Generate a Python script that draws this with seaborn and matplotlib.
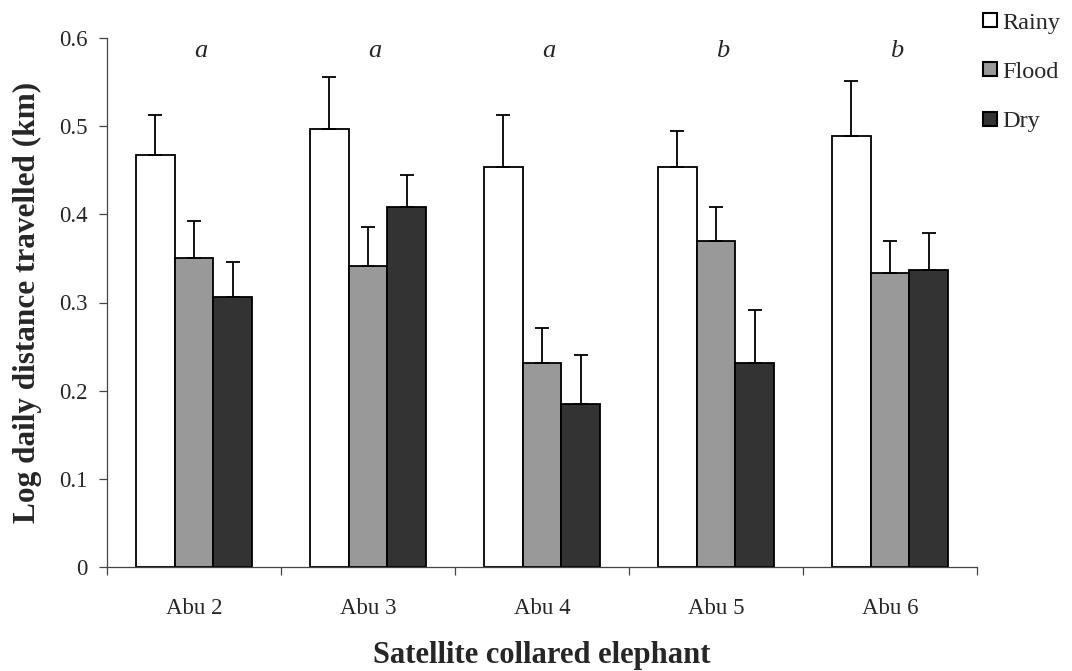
import numpy as np
import pandas as pd
import matplotlib
matplotlib.use("Agg")
import matplotlib.pyplot as plt
from matplotlib.lines import Line2D
import seaborn as sns

# Mean log daily distance travelled (km) per elephant and season, with upper SE
elephants = ["Abu 2", "Abu 3", "Abu 4", "Abu 5", "Abu 6"]
seasons = ["Rainy", "Flood", "Dry"]
rainy = [0.467, 0.497, 0.454, 0.454, 0.489]
flood = [0.350, 0.341, 0.231, 0.370, 0.333]
dry = [0.306, 0.408, 0.185, 0.231, 0.337]
rainy_se = [0.046, 0.059, 0.059, 0.041, 0.062]
flood_se = [0.042, 0.045, 0.040, 0.038, 0.037]
dry_se = [0.040, 0.037, 0.055, 0.060, 0.042]
group_letters = ["a", "a", "a", "b", "b"]
y_ticks = [0, 0.1, 0.2, 0.3, 0.4, 0.5, 0.6]
y_tick_labels = ["0", "0.1", "0.2", "0.3", "0.4", "0.5", "0.6"]
season_colors = ["#ffffff", "#999999", "#333333"]

sns.set_theme(style="white")
plt.rcParams["font.family"] = ["Liberation Serif", "DejaVu Serif"]

df = pd.DataFrame({
    "elephant": elephants * 3,
    "season": [s for s in seasons for _ in elephants],
    "value": rainy + flood + dry,
    "se": rainy_se + flood_se + dry_se,
})

fig = plt.figure(figsize=(10.72, 6.71), dpi=100)
ax = fig.add_axes([107 / 1072, 1 - 567 / 671, 870 / 1072, 529 / 671])

sns.barplot(data=df, x="elephant", y="value", hue="season",
            order=elephants, hue_order=seasons, palette=season_colors,
            width=0.672, errorbar=None, edgecolor="black", linewidth=1.3,
            legend=False, ax=ax)

# One-sided (upper) error bars centred on each bar
for patch, (_, row) in zip(ax.patches, df.iterrows()):
    cx = patch.get_x() + patch.get_width() / 2
    ax.errorbar(cx, row["value"], yerr=[[0], [row["se"]]], fmt="none",
                ecolor="black", elinewidth=1.3, capsize=5, capthick=1.3,
                zorder=1)

# Significance letters above each group
for i, letter in enumerate(group_letters):
    ax.text(i + 0.04, 0.585, letter, ha="center", va="center",
            fontsize=19, style="italic")

ax.set_xlim(-0.5, len(elephants) - 0.5)
ax.set_ylim(0, 0.6)
ax.set_yticks(y_ticks)
ax.set_yticklabels(y_tick_labels, fontsize=16.5)
ax.set_xticks(range(len(elephants)))
ax.set_xticklabels(elephants, fontsize=16.5)
ax.set_xticks(np.arange(-0.5, len(elephants), 1.0), minor=True)
ax.tick_params(axis="x", which="major", length=0, pad=22)
ax.tick_params(axis="x", which="minor", length=6, width=0.9,
               color="#444444", direction="out", bottom=True)
ax.tick_params(axis="y", length=6, width=0.9, color="#444444",
               direction="out", left=True, pad=8)

for side in ["top", "right"]:
    ax.spines[side].set_visible(False)
for side in ["left", "bottom"]:
    ax.spines[side].set_color("#444444")
    ax.spines[side].set_linewidth(0.9)

ax.set_xlabel("Satellite collared elephant", fontsize=22, fontweight="bold",
              labelpad=16)
ax.set_ylabel("Log daily distance travelled (km)", fontsize=22.5,
              fontweight="bold", labelpad=12)

handles = [Line2D([], [], marker="s", linestyle="none", markersize=10,
                  markerfacecolor=c, markeredgecolor="black",
                  markeredgewidth=1.5) for c in season_colors]
fig.legend(handles, seasons, loc="upper left",
           bbox_to_anchor=(972 / 1072, 1 - 2 / 671), frameon=False,
           fontsize=17.5, labelspacing=1.12, handlelength=0.7,
           handletextpad=0.15, borderaxespad=0)

fig.savefig("out.png", dpi=100)
